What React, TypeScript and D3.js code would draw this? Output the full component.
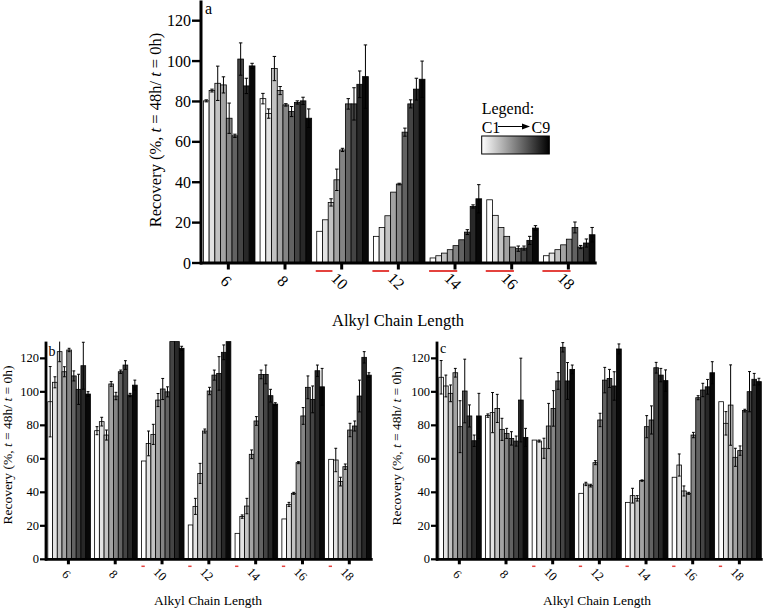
import React from 'react';
import * as d3 from 'd3';

const chainLengths = ['6', '8', '10', '12', '14', '16', '18'];
const compounds = ['C1', 'C2', 'C3', 'C4', 'C5', 'C6', 'C7', 'C8', 'C9'];
const yTickValues = [0, 20, 40, 60, 80, 100, 120];
const barShades = ['#ffffff', '#e2e2e2', '#c2c2c2', '#a3a3a3', '#848484', '#626262', '#444444', '#282828', '#080808'];

// Panel a: recovery per chain length (rows) for C1..C9 (columns)
const panelAValues = [
  [80.3, 85.4, 89, 88.2, 71.7, 63, 101, 87.7, 97.6],
  [81.4, 74, 96.3, 85.4, 78.3, 75, 79.5, 80.3, 71.7],
  [15.7, 21.4, 30, 41.2, 56, 78.8, 78.8, 88.5, 92.3],
  [13.2, 17.6, 23.4, 35.1, 39.1, 64.8, 78.8, 86.1, 91],
  [2.5, 3.6, 4.9, 6.6, 8.6, 11.5, 15.3, 28, 31.8],
  [31.3, 23.6, 17.6, 13.2, 7.9, 7.1, 7.4, 11.2, 17.3],
  [3.6, 4.9, 6.6, 9, 11.8, 17.6, 7.9, 9.9, 14],
];
const panelAErrors = [
  [0.5, 0.7, 8.5, 4, 7.5, 0.8, 8, 3.8, 1.3],
  [2.6, 2.3, 6, 2, 0.6, 2.5, 0.8, 1.8, 4.6],
  [0, 0, 1.8, 5.3, 0.8, 2.6, 8, 6.6, 15.7],
  [0, 0, 0, 0, 0.4, 2, 2, 5.4, 9],
  [0, 0, 0, 0, 0, 0, 1.2, 0.8, 7],
  [0, 0, 0, 0, 0, 1.3, 1, 2, 1.2],
  [0, 0, 0, 0, 0, 2.7, 0.8, 2, 3.6],
];
const panelAUnderlined = [0, 0, 3, 3, 5, 5, 5];

// Panel b
const panelBValues = [
  [94.1, 105.7, 124, 112, 125, 109.5, 101.5, 115.6, 98.7],
  [76.8, 82.2, 74.2, 104.7, 97.5, 112, 116, 98.1, 104],
  [58.7, 69.2, 74.6, 95.1, 101.7, 100, 135, 135, 126],
  [20.5, 31.6, 51.3, 76.6, 100.5, 110, 111, 123.6, 135],
  [15.5, 25.5, 31.8, 62.7, 82.6, 110.4, 110.4, 97.7, 92.7],
  [24.1, 32.8, 39.4, 57.7, 85.6, 102.7, 95.5, 112.6, 103],
  [59.7, 59.3, 46.4, 55.3, 77.2, 79.6, 97.5, 120.6, 110],
];
const panelBErrors = [
  [21, 3.3, 6, 3, 1, 3, 9, 14, 1.4],
  [2.4, 2.6, 3, 1.4, 2.2, 1, 2.6, 1, 3],
  [0, 7.4, 6, 3.9, 6.3, 3, 0, 0, 1.2],
  [0, 4.8, 6, 1.2, 2.2, 3, 10, 4.4, 0],
  [0, 1, 4.6, 2.6, 2.6, 2.6, 5.6, 3.8, 0.8],
  [0, 1.2, 0.6, 0.6, 5, 6.8, 8, 3.4, 11],
  [0, 7, 2.6, 1.6, 4, 3, 9.5, 3.4, 1.4],
];
const panelBUnderlined = [0, 0, 1, 1, 1, 1, 1];

// Panel c
const panelCValues = [
  [108.7, 103.5, 99.1, 111.4, 79.2, 100.5, 85.6, 70.8, 85.6],
  [85.8, 87.6, 90.1, 77.6, 75.2, 72.2, 70.6, 95.1, 72.8],
  [71.2, 70.6, 66.3, 79.6, 90.1, 106.5, 126.6, 106.5, 113.4],
  [39.4, 45, 44, 57.7, 83.2, 107, 108, 103.5, 125.6],
  [34, 38, 36.4, 47, 79.2, 83.2, 114.4, 110, 106.7],
  [49, 56.3, 40.8, 39.4, 74.2, 96.5, 101.1, 103, 111.4],
  [94.1, 81.2, 92.1, 60.9, 64.9, 88.8, 100.1, 107.5, 106.1],
];
const panelCErrors = [
  [10, 6.5, 5, 2.6, 15.5, 19, 6.6, 3.4, 13.5],
  [1, 12, 8.4, 6.6, 3, 4, 3, 25, 5.4],
  [0, 0.6, 6, 13.5, 10.6, 5, 2.8, 11, 2.6],
  [0, 1, 0.8, 1.2, 4, 7.6, 5.4, 8.5, 3],
  [0, 4.4, 1.6, 0.4, 6.6, 8.4, 3.2, 4, 6.4],
  [0, 6.6, 3, 0.6, 1.6, 1.2, 4, 4.4, 6.6],
  [0, 7, 24, 5.4, 2.8, 0.8, 12, 3.5, 2],
];
const panelCUnderlined = [0, 0, 1, 1, 1, 1, 1];

const FONT = '"Liberation Serif", "Times New Roman", serif';
const RED = '#e4423e';

type Frame = { x0: number; x1: number; y0: number; yTop: number };
type Look = {
  tickFont: number;
  labelFont: number;
  titleFont: number;
  letterFont: number;
  yLabelX: number;
  yLabelY: number;
  titleX: number;
  titleY: number;
  letterX: number;
  letterY: number;
  yTickLen: number;
  xTickLen: number;
  xLabelDy: number;
  underlineDy: number;
  underlineH: number;
  axisW: number;
  shortDash: boolean;
};

function Panel(props: {
  values: number[][];
  errors: number[][];
  underlined: number[];
  letter: string;
  frame: Frame;
  look: Look;
}) {
  const { values, errors, underlined, letter, frame, look } = props;
  const { x0, x1, y0, yTop } = frame;
  const xg = d3.scaleBand<string>().domain(chainLengths).range([x0, x1]).padding(0);
  const bw = xg.bandwidth();
  const xi = d3.scaleBand<string>().domain(compounds).range([bw * 0.06, bw * 0.97]).padding(0);
  const step = xi.bandwidth();
  const y = d3.scaleLinear().domain([0, 130]).range([y0, yTop]);
  const cap = (v: number) => Math.min(v, 130);

  return (
    <g>
      {chainLengths.map((g, gi) => (
        <g key={'bars' + g}>
          {compounds.map((c, ci) => {
            const v = values[gi][ci];
            const bx = (xg(g) as number) + (xi(c) as number);
            return (
              <rect
                key={c}
                x={bx}
                y={y(cap(v))}
                width={step}
                height={y0 - y(cap(v))}
                fill={barShades[ci]}
                stroke="#000"
                strokeWidth={0.8}
              />
            );
          })}
        </g>
      ))}
      {chainLengths.map((g, gi) => (
        <g key={'err' + g}>
          {compounds.map((c, ci) => {
            const v = values[gi][ci];
            const e = errors[gi][ci];
            if (!e || v >= 130) return null;
            const cx = (xg(g) as number) + (xi(c) as number) + step / 2;
            const hi = y(cap(v + e));
            const lo = y(Math.max(0, v - e));
            const cw = step * 0.3;
            return (
              <g key={c} stroke="#000" strokeWidth={1}>
                <line x1={cx} x2={cx} y1={hi} y2={lo} />
                {v + e < 130 && <line x1={cx - cw} x2={cx + cw} y1={hi} y2={hi} />}
                <line x1={cx - cw} x2={cx + cw} y1={lo} y2={lo} />
              </g>
            );
          })}
        </g>
      ))}
      <line x1={x0 + 1} x2={x0 + 1} y1={yTop} y2={y0 + look.axisW / 2} stroke="#000" strokeWidth={look.axisW} />
      <line x1={x0} x2={x1} y1={y0} y2={y0} stroke="#000" strokeWidth={look.axisW} />
      {yTickValues.map((t) => (
        <g key={'yt' + t}>
          <line x1={x0 - look.yTickLen} x2={x0} y1={y(t)} y2={y(t)} stroke="#000" strokeWidth={look.axisW - 0.6} />
          <text
            x={x0 - look.yTickLen - 1}
            y={y(t)}
            textAnchor="end"
            dominantBaseline="central"
            fontFamily={FONT}
            fontSize={look.tickFont}
          >
            {t}
          </text>
        </g>
      ))}
      {chainLengths.map((g, gi) => {
        const cx = (xg(g) as number) + bw / 2;
        const n = underlined[gi];
        const ux = (xg(g) as number) + (xi('C1') as number);
        return (
          <g key={'xt' + g}>
            <rect x={cx - 1.5} y={y0} width={3} height={look.xTickLen} fill="#000" />
            <g transform={`translate(${cx - 2},${y0 + look.xLabelDy}) rotate(45)`}>
              <text
                x={0}
                y={0}
                textAnchor="middle"
                dominantBaseline="central"
                fontFamily={FONT}
                fontSize={look.tickFont}
              >
                {g}
              </text>
            </g>
            {n > 0 && (
              <rect
                x={look.shortDash ? ux : ux - 1}
                y={y0 + look.underlineDy - look.underlineH / 2}
                width={look.shortDash ? step * 0.7 : n * step - 0.5}
                height={look.underlineH}
                fill={RED}
              />
            )}
          </g>
        );
      })}
      <g transform={`translate(${look.yLabelX},${look.yLabelY}) rotate(-90)`}>
        <text x={0} y={0} textAnchor="middle" fontFamily={FONT} fontSize={look.labelFont}>
          Recovery (%, <tspan fontStyle="italic">t</tspan> = 48h/ <tspan fontStyle="italic">t</tspan> = 0h)
        </text>
      </g>
      <text x={look.titleX} y={look.titleY} textAnchor="middle" fontFamily={FONT} fontSize={look.titleFont}>
        Alkyl Chain Length
      </text>
      <text x={look.letterX} y={look.letterY} fontFamily={FONT} fontSize={look.letterFont}>
        {letter}
      </text>
    </g>
  );
}

const lookA: Look = {
  tickFont: 16,
  labelFont: 16.5,
  titleFont: 16.5,
  letterFont: 16,
  yLabelX: 161,
  yLabelY: 130,
  titleX: 398,
  titleY: 326,
  letterX: 205,
  letterY: 14,
  yTickLen: 8,
  xTickLen: 6.5,
  xLabelDy: 18,
  underlineDy: 8,
  underlineH: 2,
  axisW: 3,
  shortDash: false,
};
const lookB: Look = {
  tickFont: 12.5,
  labelFont: 13.5,
  titleFont: 13.5,
  letterFont: 14,
  yLabelX: 12,
  yLabelY: 445,
  titleX: 208,
  titleY: 605,
  letterX: 48.5,
  letterY: 356,
  yTickLen: 5,
  xTickLen: 5,
  xLabelDy: 15,
  underlineDy: 7,
  underlineH: 1.5,
  axisW: 2.8,
  shortDash: true,
};
const lookC: Look = { ...lookB, yLabelX: 401, yLabelY: 446, titleX: 597, letterX: 440, letterY: 353 };

export default function App() {
  return (
    <svg
      width={763}
      height={610}
      viewBox="0 0 763 610"
      style={{ position: 'absolute', left: 0, top: 0, background: '#fff' }}
    >
      <defs>
        <linearGradient id="legendGrad" x1="0" x2="1" y1="0" y2="0">
          <stop offset="0%" stopColor="#ffffff" />
          <stop offset="100%" stopColor="#000000" />
        </linearGradient>
      </defs>
      <Panel
        values={panelAValues}
        errors={panelAErrors}
        underlined={panelAUnderlined}
        letter="a"
        frame={{ x0: 200, x1: 596.7, y0: 263, yTop: 0.5 }}
        look={lookA}
      />
      <Panel
        values={panelBValues}
        errors={panelBErrors}
        underlined={panelBUnderlined}
        letter="b"
        frame={{ x0: 45, x1: 372.7, y0: 559.3, yTop: 341.6 }}
        look={lookB}
      />
      <Panel
        values={panelCValues}
        errors={panelCErrors}
        underlined={panelCUnderlined}
        letter="c"
        frame={{ x0: 436, x1: 762.7, y0: 559.3, yTop: 341.6 }}
        look={lookC}
      />
      <g fontFamily={FONT} fontSize={16}>
        <text x={481.7} y={114}>Legend:</text>
        <text x={481.7} y={132.5}>{compounds[0]}</text>
        <line x1={498} x2={523} y1={126.5} y2={126.5} stroke="#000" strokeWidth={1} />
        <polygon points="522,123.5 530,126.5 522,129.5" fill="#000" />
        <text x={531.5} y={132.5}>{compounds[compounds.length - 1]}</text>
        <rect x={481.7} y={136} width={67.6} height={18} fill="url(#legendGrad)" stroke="#000" strokeWidth={1} />
      </g>
    </svg>
  );
}
